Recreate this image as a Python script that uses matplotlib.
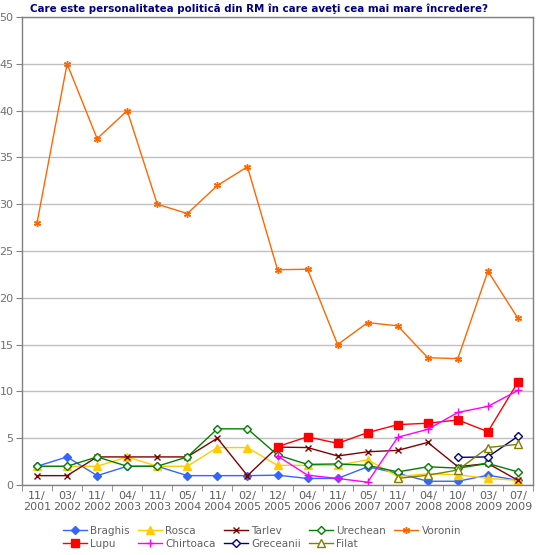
import numpy as np
import matplotlib
matplotlib.use("Agg")
import matplotlib.pyplot as plt

nan = np.nan

# perioadele sondajelor
perioade = ["11/\n2001", "03/\n2002", "11/\n2002", "04/\n2003", "11/\n2003", "05/\n2004",
            "11/\n2004", "02/\n2005", "12/\n2005", "04/\n2006", "11/\n2006", "05/\n2007",
            "11/\n2007", "04/\n2008", "10/\n2008", "03/\n2009", "07/\n2009"]

braghis = [2, 3, 1, 2, 2, 1, 1, 1, 1.05, 0.7, 0.7, 1.95, 1.25, 0.4, 0.4, 1.05, 0.5]
rosca = [2, 2, 2, 3, 2, 2, 4, 4, 2.1, 2.1, 2.1, 2.7, 0.9, 1.2, 1.1, 0.7, 0.5]
tarlev = [1, 1, 3, 3, 3, 3, 5, 1, 4.05, 4.0, 3.1, 3.55, 3.7, 4.55, 1.95, 2.3, 0.5]
urechean = [2, 2, 3, 2, 2, 3, 6, 6, 3.2, 2.2, 2.25, 2.1, 1.4, 1.95, 1.8, 2.3, 1.4]
voronin = [28, 45, 37, 40, 30, 29, 32, 34, 23, 23.05, 15, 17.35, 17, 13.6, 13.5, 22.85, 17.8]
lupu = [nan] * 8 + [4.1, 5.15, 4.45, 5.6, 6.45, 6.6, 6.95, 5.7, 11.0]
chirtoaca = [nan] * 8 + [3.1, 1.05, 0.7, 0.3, 5.1, 5.95, 7.75, 8.4, 10.1]
greceanii = [nan] * 14 + [2.95, 3.0, 5.2]
filat = [nan] * 12 + [0.7, 1.05, 1.6, 4.0, 4.35]

fig = plt.figure(figsize=(5.4, 5.55), dpi=100)
ax = fig.add_axes([22 / 540, 1 - 485 / 555, 511 / 540, 468 / 555])

x = np.arange(len(perioade))
ms = 4
lw = 1.0

ax.plot(x, braghis, color="#3366FF", lw=lw, marker="D", ms=ms, label="Braghis")
ax.plot(x, rosca, color="#FFCC00", lw=lw, marker="^", ms=ms + 1.5, label="Rosca")
ax.plot(x, tarlev, color="#800000", lw=lw, marker="x", ms=ms, mew=1, label="Tarlev")
ax.plot(x, urechean, color="#008000", lw=lw, marker="D", ms=ms, mfc="white", label="Urechean")
ax.plot(x, voronin, color="#FF6600", lw=lw, marker=(6, 2, 0), ms=ms + 1, mew=1, label="Voronin")
ax.plot(x, lupu, color="#FF0000", lw=lw, marker="s", ms=ms + 1.5, label="Lupu")
ax.plot(x, chirtoaca, color="#FF00FF", lw=lw, marker="+", ms=ms + 2, mew=1, label="Chirtoaca")
ax.plot(x, greceanii, color="#000080", lw=lw, marker="D", ms=ms, mfc="white", label="Greceanii")
ax.plot(x, filat, color="#808000", lw=lw, marker="^", ms=ms + 1.5, mfc="white", label="Filat")

ax.set_xlim(-0.5, len(perioade) - 0.5)
ax.set_ylim(0, 50)
ax.set_yticks(np.arange(0, 51, 5))
ax.set_xticks(x)
ax.set_xticklabels(perioade)
ax.set_xticks(np.arange(-0.5, len(perioade), 1), minor=True)
ax.tick_params(axis="x", which="major", length=0, labelsize=8, colors="#606060", pad=4)
ax.tick_params(axis="x", which="minor", length=4, color="#808080", direction="out")
ax.tick_params(axis="y", length=4, color="#808080", labelsize=8, labelcolor="#707070", pad=2)
ax.grid(axis="y", color="#C0C0C0", lw=1)
ax.set_axisbelow(True)
for s in ax.spines.values():
    s.set_color("#808080")
    s.set_linewidth(1)

fig.text(259 / 540, 1 - 9 / 555,
         "Care este personalitatea politică din RM în care aveţi cea mai mare încredere?",
         ha="center", va="center", fontsize=7.4, fontweight="bold", color="#000080")

# ordinea pe coloane ca legenda sa se citeasca pe randuri
h, l = ax.get_legend_handles_labels()
ordine = [0, 5, 1, 6, 2, 7, 3, 8, 4]
ax.legend([h[i] for i in ordine], [l[i] for i in ordine],
          loc="upper center", bbox_to_anchor=(0.47, -0.078), ncol=5, frameon=False,
          fontsize=7.5, labelcolor="#606060", handlelength=2.3, handletextpad=0.3,
          columnspacing=0.8, labelspacing=0.3, borderaxespad=0)

fig.savefig("out.png", dpi=100)
